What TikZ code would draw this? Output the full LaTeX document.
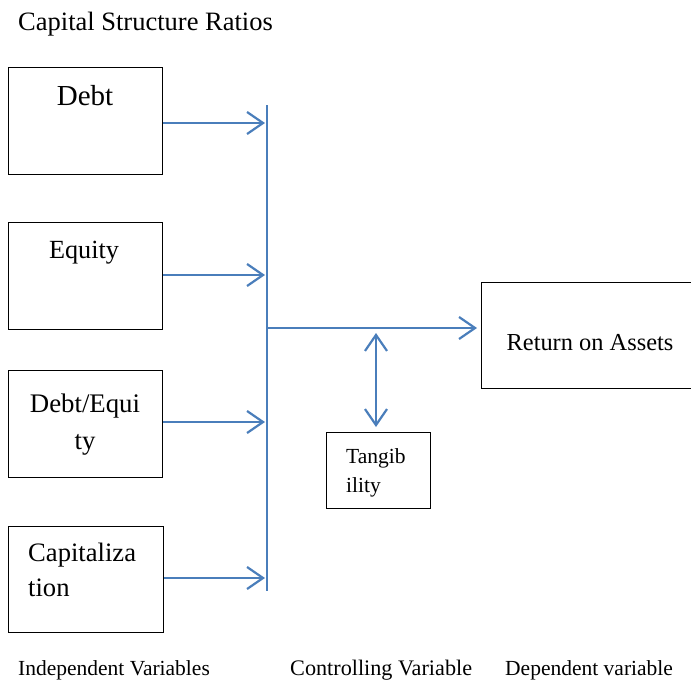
\documentclass[tikz,border=0pt]{standalone}
\usepackage{fontspec}
\setmainfont{Liberation Serif}
\usetikzlibrary{arrows.meta}
\definecolor{lineblue}{HTML}{4A7EBB}
\tikzset{
  box/.style={draw=black, line width=1pt, inner sep=0pt, anchor=north west},
  tip/.tip={Straight Barb[length=16pt,width=22pt,line width=2.2pt]},
  arr/.style={draw=lineblue, line width=2.2pt, -tip},
  darr/.style={draw=lineblue, line width=2.2pt, tip-tip},
  txt/.style={inner sep=0pt, anchor=base},
  txtl/.style={inner sep=0pt, anchor=base west},
}
\begin{document}
\begin{tikzpicture}[x=1pt,y=-1pt]
\useasboundingbox (0,0) rectangle (691,681);
% title
\node[txtl, font=\fontsize{26.5}{30}\selectfont] (title) at (18,30) {Capital Structure Ratios};
% boxes
\node[box, minimum width=154pt, minimum height=107pt] (debt) at (8,67) {};
\node[box, minimum width=154pt, minimum height=107pt] (equity) at (8,222) {};
\node[box, minimum width=154pt, minimum height=107pt] (de) at (8,370) {};
\node[box, minimum width=155pt, minimum height=106pt] (cap) at (8,526) {};
\node[box, minimum width=104pt, minimum height=76pt] (tang) at (326,432) {};
\node[box, minimum width=220pt, minimum height=106pt] (roa) at (481,282) {};
% texts
\node[txt, font=\fontsize{29}{32}\selectfont] (tdebt) at (85,105) {Debt};
\node[txt, font=\fontsize{26.2}{30}\selectfont] (teq) at (84,258) {Equity};
\node[txt, font=\fontsize{26.8}{30}\selectfont] (tde1) at (85,412) {Debt/Equi};
\node[txt, font=\fontsize{26.8}{30}\selectfont] (tde2) at (85,449) {ty};
\node[txtl, font=\fontsize{26.6}{30}\selectfont] (tcap1) at (28,561) {Capitaliza};
\node[txtl, font=\fontsize{26.6}{30}\selectfont] (tcap2) at (28,596) {tion};
\node[txtl, font=\fontsize{21.5}{25}\selectfont] (tt1) at (346,463) {Tangib};
\node[txtl, font=\fontsize{21.5}{25}\selectfont] (tt2) at (346,492) {ility};
\node[txt, font=\fontsize{24.4}{28}\selectfont] (troa) at (590,350) {Return on Assets};
% bottom labels
\node[txtl, font=\fontsize{21.5}{25}\selectfont] (lind) at (18,675.5) {Independent Variables};
\node[txtl, font=\fontsize{22.2}{26}\selectfont] (lctl) at (290,675.5) {Controlling Variable};
\node[txtl, font=\fontsize{21.5}{25}\selectfont] (ldep) at (505,675.5) {Dependent variable};
% bar
\coordinate (bartop) at (267,105);
\coordinate (barbot) at (267,591);
\draw[lineblue, line width=2.2pt] (bartop) -- (barbot);
\coordinate (b1) at (265,123);
\coordinate (b2) at (265,275);
\coordinate (b3) at (265,422);
\coordinate (b4) at (265,578);
\draw[arr] (debt.east |- b1) -- (b1);
\draw[arr] (equity.east |- b2) -- (b2);
\draw[arr] (de.east |- b3) -- (b3);
\draw[arr] (cap.east |- b4) -- (b4);
\coordinate (bm) at (267,328);
\coordinate (roain) at (477,328);
\draw[arr] (bm) -- (roain);
\coordinate (dtop) at (376,333);
\coordinate (dbot) at (376,427);
\draw[darr] (dtop) -- (dbot);
\end{tikzpicture}
\end{document}
